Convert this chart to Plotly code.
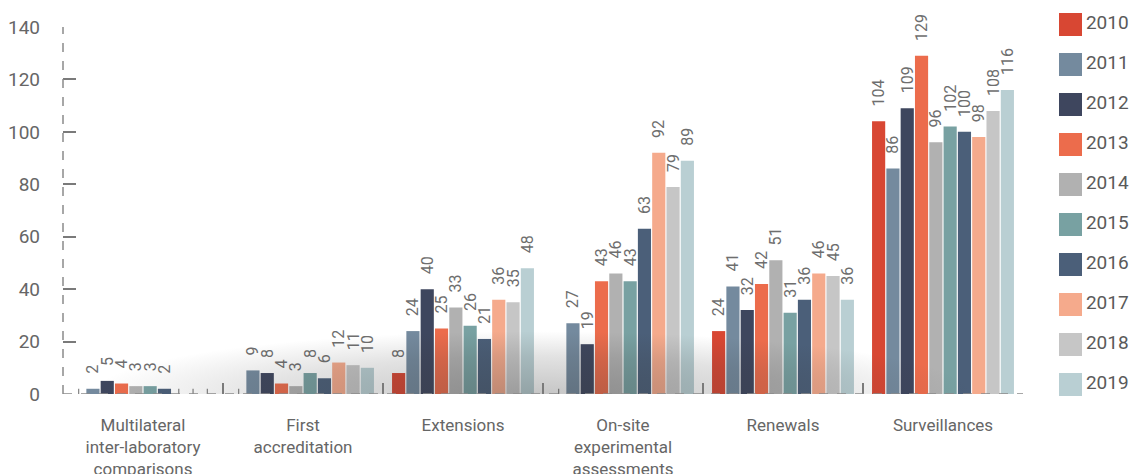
import plotly.graph_objects as go

# ---------------- data ----------------
categories = ["Multilateral inter-laboratory comparisons", "First accreditation",
              "Extensions", "On-site experimental assessments", "Renewals", "Surveillances"]
category_labels = ["Multilateral<br>inter-laboratory<br>comparisons", "First<br>accreditation",
                   "Extensions", "On-site<br>experimental<br>assessments", "Renewals", "Surveillances"]
years = ["2010", "2011", "2012", "2013", "2014", "2015", "2016", "2017", "2018", "2019"]

v2010 = [None, None, 8, None, 24, 104]
v2011 = [2, 9, 24, 27, 41, 86]
v2012 = [5, 8, 40, 19, 32, 109]
v2013 = [4, 4, 25, 43, 42, 129]
v2014 = [3, 3, 33, 46, 51, 96]
v2015 = [3, 8, 26, 43, 31, 102]
v2016 = [2, 6, 21, 63, 36, 100]
v2017 = [None, 12, 36, 92, 46, 98]
v2018 = [None, 11, 35, 79, 45, 108]
v2019 = [None, 10, 48, 89, 36, 116]
series = [v2010, v2011, v2012, v2013, v2014, v2015, v2016, v2017, v2018, v2019]

colors = ["#d84733", "#748a9e", "#3e465e", "#ec6c4c", "#b1b1b1",
          "#78a1a2", "#4b5f79", "#f5aa8c", "#c6c6c6", "#b9cfd3"]

y_ticks = [0, 20, 40, 60, 80, 100, 120, 140]

# ---------------- figure ----------------
FONT = "Roboto, 'Open Sans', sans-serif"
fig = go.Figure()

for year, vals, col in zip(years, series, colors):
    fig.add_trace(go.Bar(
        x=categories,
        y=[v if v is not None else 0 for v in vals],
        name=year,
        marker=dict(color=col, line=dict(width=0)),
        text=["\u00a0\u00a0\u00a0" + str(v) if v is not None else "" for v in vals],
        textposition="outside",
        textangle=-90,
        constraintext="none",
        cliponaxis=False,
        textfont=dict(family=FONT, size=16, color="#6e6e6e"),
        error_y=dict(type="data", symmetric=False,
                     array=[2 if v is None else 0 for v in vals],
                     arrayminus=[0] * len(vals),
                     width=0, thickness=1.3, color="#8a8a8a"),
        showlegend=False,
        hoverinfo="x+y+name",
    ))

# soft shadow near the baseline (decoration)
fig.add_trace(go.Scatter(
    x=[0.03, 0.95, 0.95, 0.03], y=[-24, -24, 24, 24],
    fill="toself", mode="none",
    fillgradient=dict(type="radial",
                      colorscale=[[0, "rgba(50,50,50,0.28)"], [0.6, "rgba(50,50,50,0.14)"],
                                  [1, "rgba(50,50,50,0)"]]),
    xaxis="x3", yaxis="y3", hoverinfo="skip", showlegend=False,
))

# custom legend
fig.add_trace(go.Scatter(
    x=[0] * len(years), y=years,
    mode="markers+text",
    marker=dict(symbol="square", size=23, color=colors, line=dict(width=0)),
    text=years, textposition="middle right",
    textfont=dict(family=FONT, size=19, color="#5a5a5a"),
    cliponaxis=False, xaxis="x2", yaxis="y2",
    hoverinfo="skip", showlegend=False,
))

TOP, BOT = 10, 80
plot_h = 474 - TOP - BOT          # 384
main_top = (394 - 27) / plot_h    # y domain top of the bar chart
main_right = 960 / 1073

fig.update_layout(
    width=1136, height=474,
    margin=dict(l=63, r=0, t=TOP, b=BOT, autoexpand=False),
    paper_bgcolor="white", plot_bgcolor="rgba(0,0,0,0)",
    barmode="group", bargap=0.106, bargroupgap=0.08,
    font=dict(family=FONT, color="#666666"),
    xaxis=dict(
        domain=[0, main_right], anchor="y", type="category", categoryorder="array",
        categoryarray=categories, tickvals=categories, ticktext=category_labels,
        range=[-0.5, len(categories) - 0.5],
        tickson="boundaries", ticks="inside", ticklen=11, tickwidth=1.5, tickcolor="#7a7a7a",
        tickfont=dict(family=FONT, size=17, color="#666666"),
        ticklabelstandoff=19,
        showgrid=False, showline=False, zeroline=False, fixedrange=True, automargin=False,
    ),
    yaxis=dict(
        domain=[0, main_top], anchor="x",
        range=[0, 140], tickvals=y_ticks, ticks="",
        tickfont=dict(family=FONT, size=19, color="#666666"),
        ticklabelstandoff=22,
        showgrid=False, showline=False, zeroline=False, fixedrange=True, automargin=False,
    ),
    xaxis3=dict(overlaying="x", anchor="y3", range=[0, 1], visible=False,
                fixedrange=True, automargin=False),
    yaxis3=dict(overlaying="y", anchor="x3", range=[0, 140], tickvals=y_ticks[1:],
                ticks="inside", ticklen=13, tickwidth=1.5, tickcolor="#7a7a7a",
                showticklabels=False, showgrid=False, showline=False, zeroline=False,
                fixedrange=True, automargin=False),
    xaxis2=dict(domain=[(1059 - 63) / 1073, 1], anchor="y2", range=[-1, -1 + 77 / 11.5],
                visible=False, fixedrange=True, automargin=False),
    yaxis2=dict(domain=[0, 1], anchor="x2", type="category", categoryorder="array",
                categoryarray=years, range=[-0.3625 + plot_h / 40, -0.3625],
                visible=False, fixedrange=True, automargin=False),
    shapes=[
        dict(type="line", xref="x domain", yref="y", x0=0, x1=0, y0=0, y1=140,
             line=dict(color="#8a8a8a", width=1.5, dash="dash")),
        dict(type="line", xref="x domain", yref="y", x0=0, x1=1, y0=0, y1=0,
             line=dict(color="#8a8a8a", width=1.5, dash="dash")),
    ],
)

fig.write_html(
    "out.html",
    config={"displayModeBar": False},
    post_script="document.body.style.margin='0';document.body.style.overflow='hidden';",
)
